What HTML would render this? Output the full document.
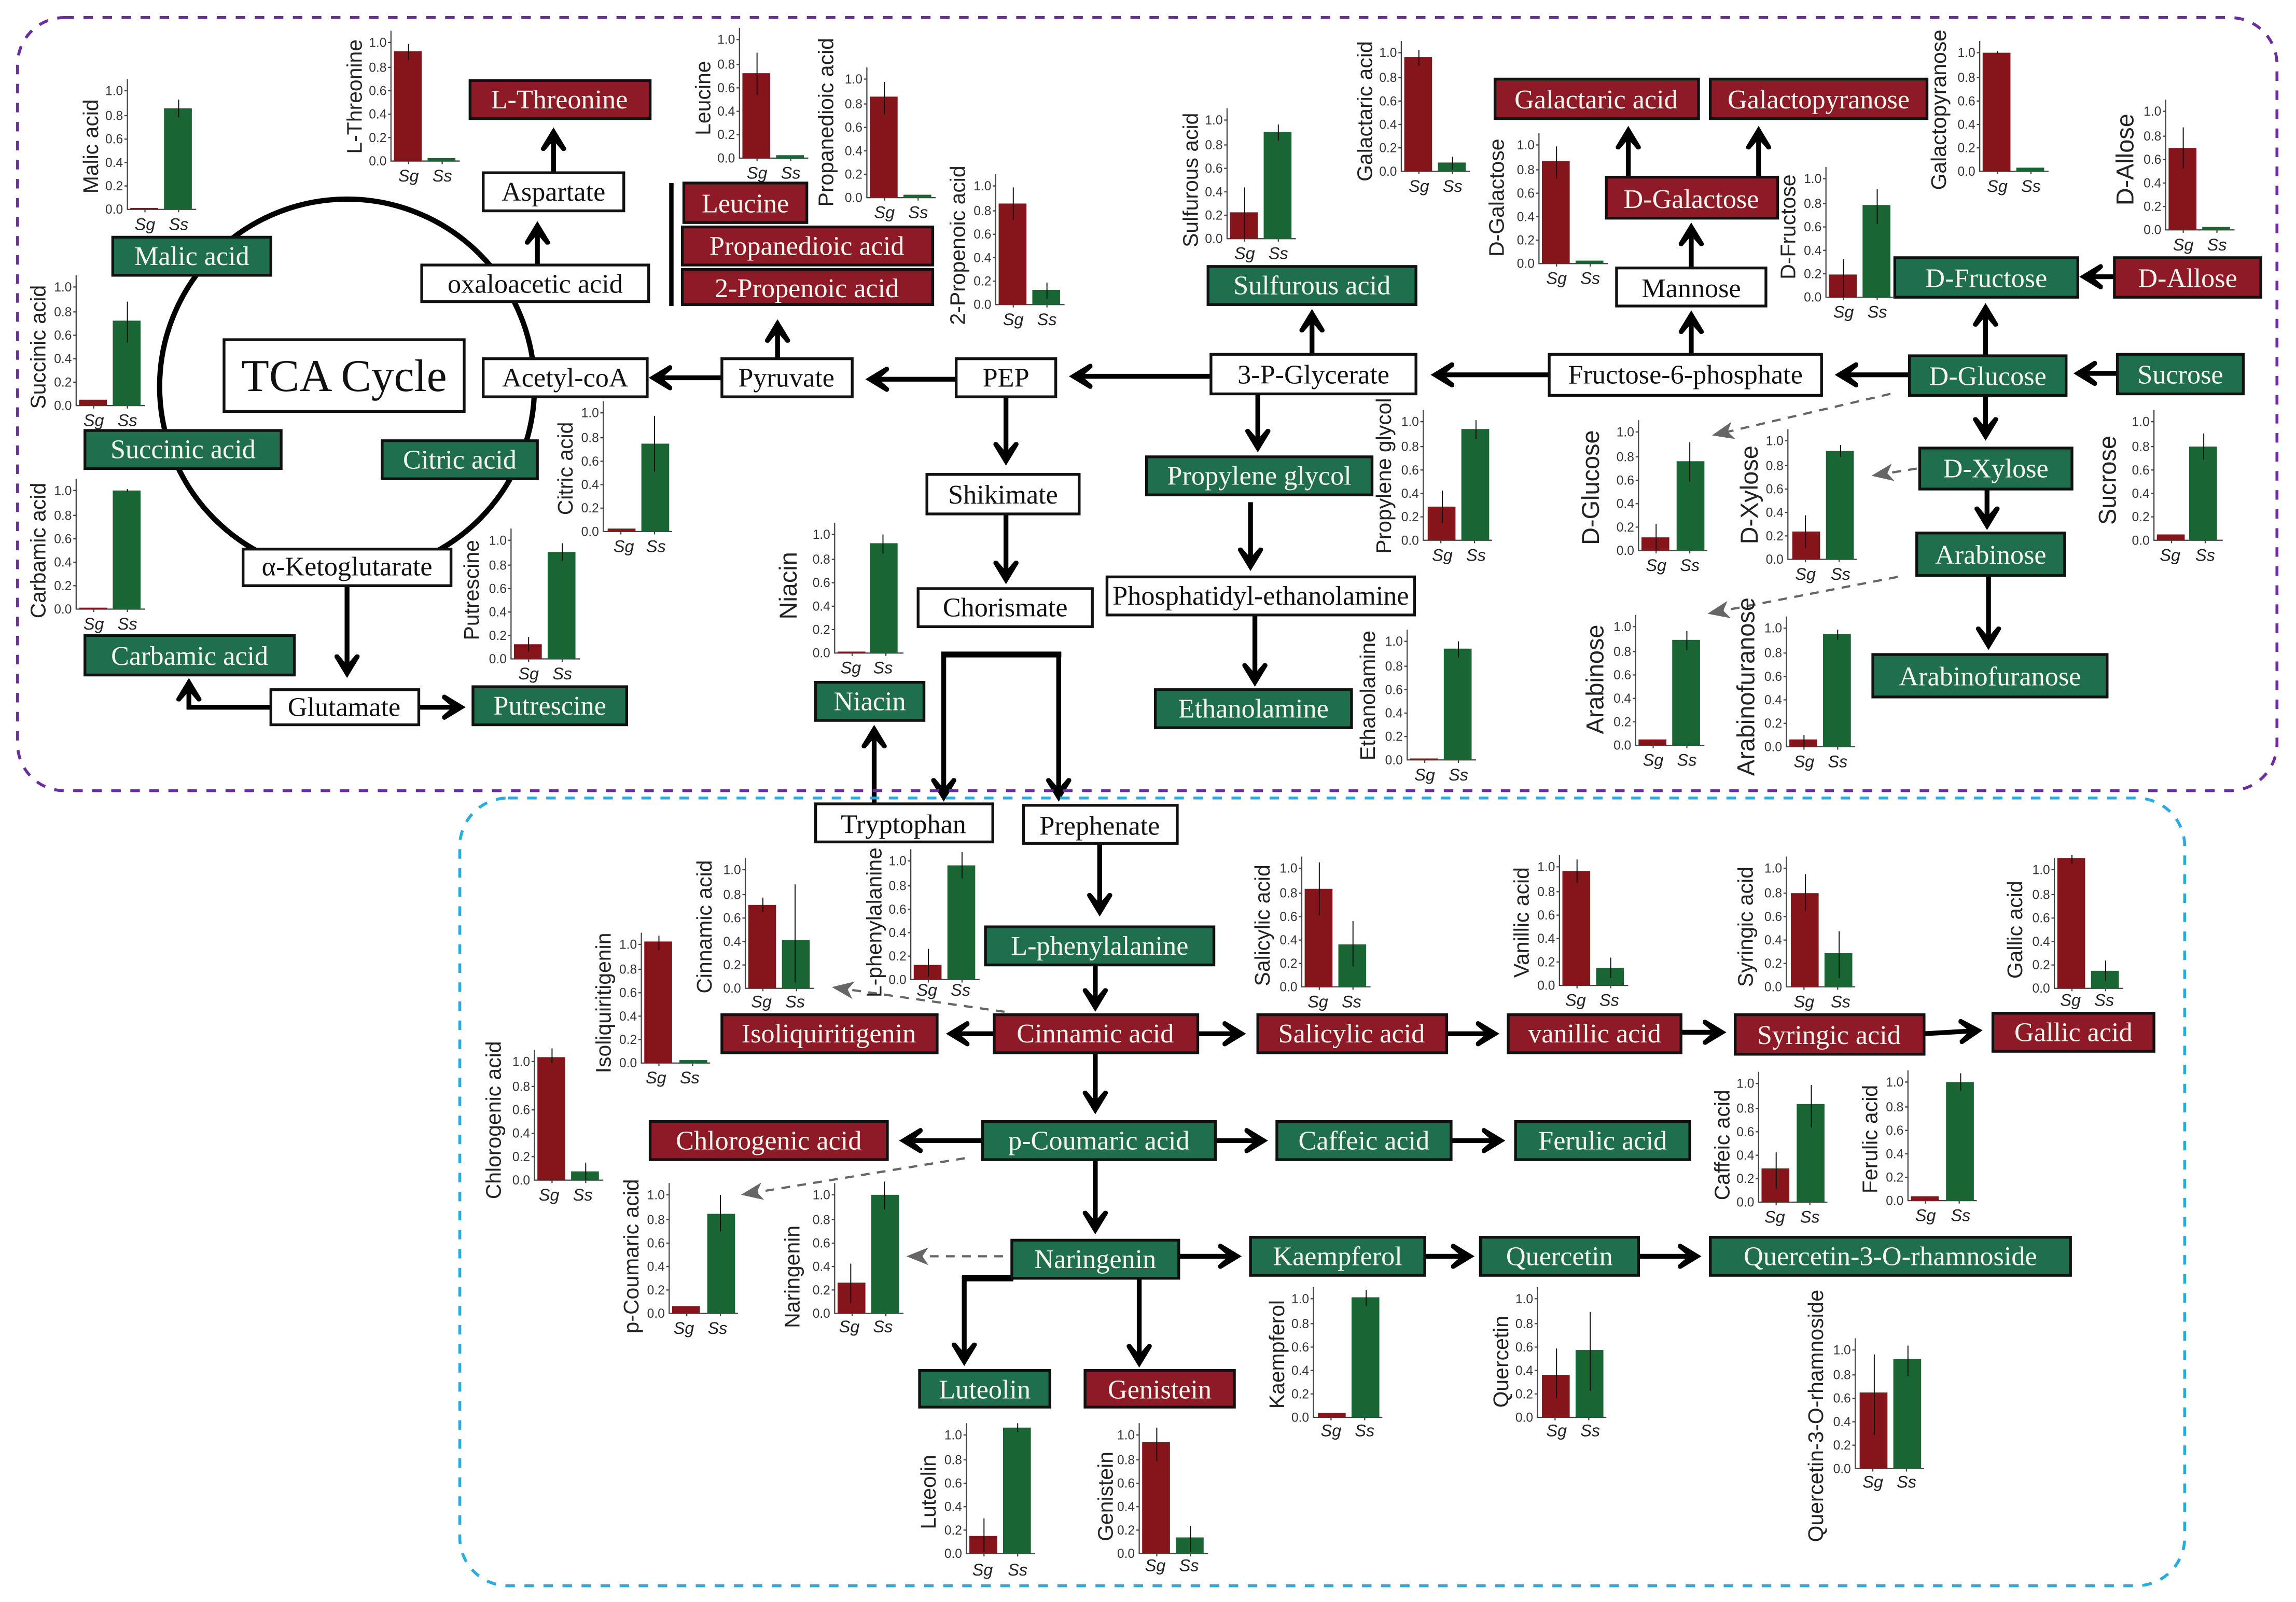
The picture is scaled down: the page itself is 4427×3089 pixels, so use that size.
<!DOCTYPE html>
<html><head><meta charset="utf-8"><title>Metabolic pathway diagram</title>
<style>
html,body{margin:0;padding:0;background:#fff}
svg{display:block}
.b rect{stroke:#111;stroke-width:1.9}
.w rect{fill:#fff}.w text{fill:#111}
.R rect{fill:#8f1a27}.G rect{fill:#1f6f4e}
.R text,.G text{fill:#f5f5ee}
.b text{font:18.5px "Liberation Serif",serif;text-anchor:middle}
.A path{fill:none;stroke:#000;stroke-width:3.3;marker-end:url(#h)}
.D path{fill:none;stroke:#666;stroke-width:1.5;stroke-dasharray:6 5;marker-end:url(#d)}
.a{fill:none;stroke:#444;stroke-width:.8}
.e{fill:none;stroke:#111;stroke-width:.7}
.r{fill:#85151a}.g{fill:#1a6534}
.t text{font:8.7px "Liberation Sans",sans-serif;fill:#333;text-anchor:end;transform:translateX(-3px)}
.s{font:italic 11.5px "Liberation Sans",sans-serif;fill:#222;text-anchor:middle}
.l{font:14.5px "Liberation Sans",sans-serif;fill:#222;text-anchor:middle}
.m{font-size:16.6px}
</style></head><body>
<svg xmlns="http://www.w3.org/2000/svg" width="4427" height="3089" viewBox="0 0 1568 1094.1">
<defs>
<marker id="h" markerUnits="userSpaceOnUse" markerWidth="24" markerHeight="24" viewBox="-18 -12 24 24" refX="-6" refY="0" orient="auto"><path d="M0 0L-14-8.500Q-16.500-9-16-6L-9 0L-16 6Q-16.500 9-14 8.500Z" fill="#000"/></marker>
<marker id="d" markerUnits="userSpaceOnUse" markerWidth="24" markerHeight="24" viewBox="-18 -12 24 24" refX="-6" refY="0" orient="auto"><path d="M0 0L-15-6-11 0-15 6Z" fill="#666"/></marker>
</defs>
<rect width="1568" height="1094.1" fill="#fff"/>
<circle cx="237" cy="264" r="128" fill="none" stroke="#000" stroke-width="3.6"/>
<rect x="457" y="125" width="3" height="84" fill="#000"/>

<g class="A">
<path d="M378 118V93"/><path d="M367 181V157"/><path d="M531 245V224"/><path d="M493 258H449"/><path d="M653 259H597"/><path d="M827 257H736"/><path d="M1058 256H983"/><path d="M1304 256H1259"/><path d="M1446 255H1422"/><path d="M1444 189H1426"/><path d="M1356 243V213"/><path d="M1356 270V295"/><path d="M1357 334V356"/><path d="M1358 393V438"/><path d="M1155 242V218"/><path d="M1155 183V158"/><path d="M1112 121V92"/><path d="M1201 121V92"/><path d="M896 242V217"/><path d="M859 269V303"/><path d="M854 343V384"/><path d="M857 420V463"/><path d="M687 271V312"/><path d="M687 351V393"/>
<path d="M644.500 447V541.500"/><path d="M723 447V541.500"/>
<path d="M597 549V501"/><path d="M751 576V620"/><path d="M748 659V685"/><path d="M679 706H652"/><path d="M818 706H845"/><path d="M988 706H1018"/><path d="M1148 705H1173"/><path d="M1314 706L1348 704"/><path d="M748 719V755"/><path d="M671 779H620"/><path d="M830 779H860"/><path d="M991 779H1022"/><path d="M748 792V837"/><path d="M805 858H842"/><path d="M973 858H1001"/><path d="M1119 858H1156"/>
<path d="M691 873H658.500V927"/><path d="M778 873V928"/>
<path d="M286 483H312"/><path d="M185 483H129V469"/><path d="M237 400V457"/>
</g>
<rect x="642.800" y="445" width="82" height="4" fill="#000"/>
<rect x="657" y="870.600" width="35" height="4.500" fill="#000"/>
<g class="D">
<path d="M1291 269L1175 296"/><path d="M1309 320L1284 324"/><path d="M1296 394L1172 418"/><path d="M686 691L574 675"/><path d="M659 791L512 815"/><path d="M685 858H625"/>
</g>
<rect x="12" y="12" width="1543" height="528" rx="32" fill="none" stroke="#6a2c9f" stroke-width="2" stroke-dasharray="6.5 6.5"/>
<rect x="314" y="545" width="1178" height="538" rx="33" fill="none" stroke="#29abe2" stroke-width="2" stroke-dasharray="6.5 6.5"/>

<g class="b w">
<rect x="330" y="118" width="96" height="26"/><text x="378" y="137">Aspartate</text>
<rect x="288" y="181" width="155" height="25"/><text x="365.500" y="200">oxaloacetic acid</text>
<rect x="153" y="232" width="164" height="49"/><text x="235" y="267" style="font-size:31px">TCA Cycle</text>
<rect x="330" y="245" width="112" height="26"/><text x="386" y="264">Acetyl-coA</text>
<rect x="166" y="375" width="142" height="25"/><text x="237" y="393">α-Ketoglutarate</text>
<rect x="185" y="471" width="101" height="24"/><text x="235" y="489">Glutamate</text>
<rect x="493" y="245" width="89" height="26"/><text x="537" y="264">Pyruvate</text>
<rect x="653" y="245" width="68" height="26"/><text x="687" y="264">PEP</text>
<rect x="827" y="242" width="140" height="27"/><text x="897" y="262">3-P-Glycerate</text>
<rect x="1058" y="242" width="186" height="28"/><text x="1151" y="262">Fructose-6-phosphate</text>
<rect x="1104" y="183" width="102" height="26"/><text x="1155" y="203">Mannose</text>
<rect x="756" y="394" width="210" height="26"/><text x="861" y="413">Phosphatidyl-ethanolamine</text>
<rect x="633" y="324" width="104" height="27"/><text x="685" y="344">Shikimate</text>
<rect x="627" y="402" width="119" height="26"/><text x="686.500" y="421">Chorismate</text>
<rect x="557" y="549" width="121" height="26"/><text x="617" y="569">Tryptophan</text>
<rect x="699" y="550" width="105" height="26"/><text x="751" y="570">Prephenate</text>
</g>
<g class="b R">
<rect x="321" y="55" width="123" height="26"/><text x="382" y="74">L-Threonine</text>
<rect x="467" y="125" width="84" height="27"/><text x="509" y="145">Leucine</text>
<rect x="466" y="155" width="171" height="26"/><text x="551" y="174">Propanedioic acid</text>
<rect x="466" y="184" width="171" height="24"/><text x="551" y="203">2-Propenoic acid</text>
<rect x="1021" y="54" width="139" height="27"/><text x="1090" y="74">Galactaric acid</text>
<rect x="1168" y="54" width="148" height="27"/><text x="1242" y="74">Galactopyranose</text>
<rect x="1097" y="121" width="117" height="28"/><text x="1155" y="142">D-Galactose</text>
<rect x="1444" y="176" width="100" height="27"/><text x="1494" y="196">D-Allose</text>
<rect x="493" y="693" width="147" height="26"/><text x="566" y="712">Isoliquiritigenin</text>
<rect x="679" y="693" width="139" height="26"/><text x="748" y="712">Cinnamic acid</text>
<rect x="859" y="693" width="129" height="26"/><text x="923" y="712">Salicylic acid</text>
<rect x="1030" y="693" width="118" height="26"/><text x="1089" y="712">vanillic acid</text>
<rect x="1185" y="693" width="129" height="27"/><text x="1249" y="713">Syringic acid</text>
<rect x="1361" y="692" width="110" height="26"/><text x="1416" y="711">Gallic acid</text>
<rect x="444" y="766" width="162" height="26"/><text x="525" y="785">Chlorogenic acid</text>
<rect x="741" y="936" width="102" height="25"/><text x="792" y="955">Genistein</text>
</g>
<g class="b G">
<rect x="77" y="162" width="108" height="26"/><text x="131" y="181">Malic acid</text>
<rect x="58" y="294" width="134" height="26"/><text x="125" y="313">Succinic acid</text>
<rect x="261" y="301" width="106" height="26"/><text x="314" y="320">Citric acid</text>
<rect x="58" y="434" width="143" height="27"/><text x="129.500" y="454">Carbamic acid</text>
<rect x="323" y="469" width="105" height="26"/><text x="375.500" y="488">Putrescine</text>
<rect x="825" y="182" width="142" height="26"/><text x="896" y="201">Sulfurous acid</text>
<rect x="783" y="312" width="154" height="26"/><text x="860" y="331">Propylene glycol</text>
<rect x="789" y="471" width="134" height="26"/><text x="856" y="490">Ethanolamine</text>
<rect x="557" y="466" width="74" height="26"/><text x="594" y="485">Niacin</text>
<rect x="1294" y="176" width="125" height="27"/><text x="1356.500" y="196">D-Fructose</text>
<rect x="1304" y="243" width="107" height="27"/><text x="1357.500" y="263">D-Glucose</text>
<rect x="1446" y="242" width="86" height="27"/><text x="1489" y="262">Sucrose</text>
<rect x="1311" y="306" width="104" height="28"/><text x="1363" y="326">D-Xylose</text>
<rect x="1309" y="364" width="101" height="29"/><text x="1359.500" y="385">Arabinose</text>
<rect x="1279" y="447" width="160" height="29"/><text x="1359" y="468">Arabinofuranose</text>
<rect x="673" y="633" width="156" height="26"/><text x="751" y="652">L-phenylalanine</text>
<rect x="671" y="766" width="159" height="26"/><text x="750.500" y="785">p-Coumaric acid</text>
<rect x="872" y="766" width="119" height="26"/><text x="931.500" y="785">Caffeic acid</text>
<rect x="1035" y="766" width="119" height="26"/><text x="1094.500" y="785">Ferulic acid</text>
<rect x="691" y="847" width="114" height="26"/><text x="748" y="866">Naringenin</text>
<rect x="854" y="845" width="119" height="26"/><text x="913.500" y="864">Kaempferol</text>
<rect x="1011" y="845" width="108" height="26"/><text x="1065" y="864">Quercetin</text>
<rect x="1168" y="845" width="246" height="26"/><text x="1291" y="864">Quercetin-3-O-rhamnoside</text>
<rect x="628" y="936" width="89" height="25"/><text x="672.500" y="955">Luteolin</text>
</g>

<g transform="translate(87,143)"><path class="a" d="M0-89V0H47M-2-16H0M-2-32H0M-2-48H0M-2-64H0M-2-81H0M12 0v2M35 0v2"/><g class="t"><text y="3">0.0</text><text y="-13">0.2</text><text y="-29">0.4</text><text y="-45">0.6</text><text y="-61">0.8</text><text y="-78">1.0</text></g><rect class="r" x="2" y="-1" width="19" height="1"/><rect class="g" x="25" y="-69" width="19" height="69"/><path class="e" d="M35-75V-63"/><text class="s" x="12" y="14">Sg</text><text class="s" x="35" y="14">Ss</text><text class="l" transform="translate(-20,-43) rotate(-90)">Malic acid</text></g>
<g transform="translate(52,277)"><path class="a" d="M0-89V0H47M-2-16H0M-2-32H0M-2-48H0M-2-64H0M-2-81H0M12 0v2M35 0v2"/><g class="t"><text y="3">0.0</text><text y="-13">0.2</text><text y="-29">0.4</text><text y="-45">0.6</text><text y="-61">0.8</text><text y="-78">1.0</text></g><rect class="r" x="2" y="-4" width="19" height="4"/><rect class="g" x="25" y="-58" width="19" height="58"/><path class="e" d="M35-71V-43"/><text class="s" x="12" y="14">Sg</text><text class="s" x="35" y="14">Ss</text><text class="l" transform="translate(-21,-40) rotate(-90)">Succinic acid</text></g>
<g transform="translate(52,416)"><path class="a" d="M0-89V0H47M-2-16H0M-2-32H0M-2-48H0M-2-64H0M-2-81H0M12 0v2M35 0v2"/><g class="t"><text y="3">0.0</text><text y="-13">0.2</text><text y="-29">0.4</text><text y="-45">0.6</text><text y="-61">0.8</text><text y="-78">1.0</text></g><rect class="r" x="2" y="-1" width="19" height="1"/><rect class="g" x="25" y="-81" width="19" height="81"/><path class="e" d="M35-82V-80"/><text class="s" x="12" y="14">Sg</text><text class="s" x="35" y="14">Ss</text><text class="l" transform="translate(-21,-40) rotate(-90)">Carbamic acid</text></g>
<g transform="translate(267,110)"><path class="a" d="M0-89V0H47M-2-16H0M-2-32H0M-2-48H0M-2-64H0M-2-81H0M12 0v2M35 0v2"/><g class="t"><text y="3">0.0</text><text y="-13">0.2</text><text y="-29">0.4</text><text y="-45">0.6</text><text y="-61">0.8</text><text y="-78">1.0</text></g><rect class="r" x="2" y="-75" width="19" height="75"/><rect class="g" x="25" y="-2" width="19" height="2"/><path class="e" d="M12-80V-69"/><text class="s" x="12" y="14">Sg</text><text class="s" x="35" y="14">Ss</text><text class="l" transform="translate(-20,-44) rotate(-90)">L-Threonine</text></g>
<g transform="translate(505,108)"><path class="a" d="M0-89V0H47M-2-16H0M-2-32H0M-2-48H0M-2-64H0M-2-81H0M12 0v2M35 0v2"/><g class="t"><text y="3">0.0</text><text y="-13">0.2</text><text y="-29">0.4</text><text y="-45">0.6</text><text y="-61">0.8</text><text y="-78">1.0</text></g><rect class="r" x="2" y="-58" width="19" height="58"/><rect class="g" x="25" y="-2" width="19" height="2"/><path class="e" d="M12-72V-43"/><text class="s" x="12" y="14">Sg</text><text class="s" x="35" y="14">Ss</text><text class="l" transform="translate(-20,-41) rotate(-90)">Leucine</text></g>
<g transform="translate(592,135)"><path class="a" d="M0-89V0H47M-2-16H0M-2-32H0M-2-48H0M-2-64H0M-2-81H0M12 0v2M35 0v2"/><g class="t"><text y="3">0.0</text><text y="-13">0.2</text><text y="-29">0.4</text><text y="-45">0.6</text><text y="-61">0.8</text><text y="-78">1.0</text></g><rect class="r" x="2" y="-69" width="19" height="69"/><rect class="g" x="25" y="-2" width="19" height="2"/><path class="e" d="M12-79V-57"/><text class="s" x="12" y="14">Sg</text><text class="s" x="35" y="14">Ss</text><text class="l" transform="translate(-23,-51.500) rotate(-90)">Propanedioic acid</text></g>
<g transform="translate(680,208)"><path class="a" d="M0-89V0H47M-2-16H0M-2-32H0M-2-48H0M-2-64H0M-2-81H0M12 0v2M35 0v2"/><g class="t"><text y="3">0.0</text><text y="-13">0.2</text><text y="-29">0.4</text><text y="-45">0.6</text><text y="-61">0.8</text><text y="-78">1.0</text></g><rect class="r" x="2" y="-69" width="19" height="69"/><rect class="g" x="25" y="-10" width="19" height="10"/><path class="e" d="M12-80V-58M35-15V-4"/><text class="s" x="12" y="14">Sg</text><text class="s" x="35" y="14">Ss</text><text class="l" transform="translate(-21,-40.500) rotate(-90)">2-Propenoic acid</text></g>
<g transform="translate(412,363)"><path class="a" d="M0-89V0H47M-2-16H0M-2-32H0M-2-48H0M-2-64H0M-2-81H0M12 0v2M35 0v2"/><g class="t"><text y="3">0.0</text><text y="-13">0.2</text><text y="-29">0.4</text><text y="-45">0.6</text><text y="-61">0.8</text><text y="-78">1.0</text></g><rect class="r" x="3" y="-2" width="19" height="2"/><rect class="g" x="26" y="-60" width="19" height="60"/><path class="e" d="M35-79V-41"/><text class="s" x="14" y="14">Sg</text><text class="s" x="36" y="14">Ss</text><text class="l" transform="translate(-21,-43) rotate(-90)">Citric acid</text></g>
<g transform="translate(349,450)"><path class="a" d="M0-89V0H47M-2-16H0M-2-32H0M-2-48H0M-2-64H0M-2-81H0M12 0v2M35 0v2"/><g class="t"><text y="3">0.0</text><text y="-13">0.2</text><text y="-29">0.4</text><text y="-45">0.6</text><text y="-61">0.8</text><text y="-78">1.0</text></g><rect class="r" x="2" y="-10" width="19" height="10"/><rect class="g" x="25" y="-73" width="19" height="73"/><path class="e" d="M12-15V-5M35-79V-67"/><text class="s" x="12" y="14">Sg</text><text class="s" x="35" y="14">Ss</text><text class="l" transform="translate(-22,-47) rotate(-90)">Putrescine</text></g>
<g transform="translate(570,446)"><path class="a" d="M0-89V0H47M-2-16H0M-2-32H0M-2-48H0M-2-64H0M-2-81H0M12 0v2M35 0v2"/><g class="t"><text y="3">0.0</text><text y="-13">0.2</text><text y="-29">0.4</text><text y="-45">0.6</text><text y="-61">0.8</text><text y="-78">1.0</text></g><rect class="r" x="2" y="-1" width="19" height="1"/><rect class="g" x="24" y="-75" width="19" height="75"/><path class="e" d="M33-81V-68"/><text class="s" x="11" y="14">Sg</text><text class="s" x="33" y="14">Ss</text><text class="l m" transform="translate(-26,-46) rotate(-90)">Niacin</text></g>
<g transform="translate(838,163)"><path class="a" d="M0-89V0H47M-2-16H0M-2-32H0M-2-48H0M-2-64H0M-2-81H0M12 0v2M35 0v2"/><g class="t"><text y="3">0.0</text><text y="-13">0.2</text><text y="-29">0.4</text><text y="-45">0.6</text><text y="-61">0.8</text><text y="-78">1.0</text></g><rect class="r" x="2" y="-18" width="19" height="18"/><rect class="g" x="25" y="-73" width="19" height="73"/><path class="e" d="M12-35V0M35-78V-67"/><text class="s" x="12" y="14">Sg</text><text class="s" x="35" y="14">Ss</text><text class="l" transform="translate(-20,-40) rotate(-90)">Sulfurous acid</text></g>
<g transform="translate(972,369)"><path class="a" d="M0-89V0H47M-2-16H0M-2-32H0M-2-48H0M-2-64H0M-2-81H0M12 0v2M35 0v2"/><g class="t"><text y="3">0.0</text><text y="-13">0.2</text><text y="-29">0.4</text><text y="-45">0.6</text><text y="-61">0.8</text><text y="-78">1.0</text></g><rect class="r" x="3" y="-23" width="19" height="23"/><rect class="g" x="26" y="-76" width="19" height="76"/><path class="e" d="M13-34V-12M36-82V-69"/><text class="s" x="13" y="14">Sg</text><text class="s" x="36" y="14">Ss</text><text class="l" transform="translate(-22,-44) rotate(-90)">Propylene glycol</text></g>
<g transform="translate(961,519)"><path class="a" d="M0-89V0H47M-2-16H0M-2-32H0M-2-48H0M-2-64H0M-2-81H0M12 0v2M35 0v2"/><g class="t"><text y="3">0.0</text><text y="-13">0.2</text><text y="-29">0.4</text><text y="-45">0.6</text><text y="-61">0.8</text><text y="-78">1.0</text></g><rect class="r" x="2" y="-1" width="19" height="1"/><rect class="g" x="25" y="-76" width="19" height="76"/><path class="e" d="M35-81V-70"/><text class="s" x="12" y="14">Sg</text><text class="s" x="35" y="14">Ss</text><text class="l" transform="translate(-22,-44) rotate(-90)">Ethanolamine</text></g>
<g transform="translate(957,117)"><path class="a" d="M0-89V0H47M-2-16H0M-2-32H0M-2-48H0M-2-64H0M-2-81H0M12 0v2M35 0v2"/><g class="t"><text y="3">0.0</text><text y="-13">0.2</text><text y="-29">0.4</text><text y="-45">0.6</text><text y="-61">0.8</text><text y="-78">1.0</text></g><rect class="r" x="2" y="-78" width="19" height="78"/><rect class="g" x="25" y="-6" width="19" height="6"/><path class="e" d="M12-83V-72M35-10V-1"/><text class="s" x="12" y="14">Sg</text><text class="s" x="35" y="14">Ss</text><text class="l" transform="translate(-20,-41) rotate(-90)">Galactaric acid</text></g>
<g transform="translate(1051,180)"><path class="a" d="M0-89V0H47M-2-16H0M-2-32H0M-2-48H0M-2-64H0M-2-81H0M12 0v2M35 0v2"/><g class="t"><text y="3">0.0</text><text y="-13">0.2</text><text y="-29">0.4</text><text y="-45">0.6</text><text y="-61">0.8</text><text y="-78">1.0</text></g><rect class="r" x="2" y="-70" width="19" height="70"/><rect class="g" x="25" y="-2" width="19" height="2"/><path class="e" d="M12-80V-58"/><text class="s" x="12" y="14">Sg</text><text class="s" x="35" y="14">Ss</text><text class="l" transform="translate(-24,-45) rotate(-90)">D-Galactose</text></g>
<g transform="translate(1352,117)"><path class="a" d="M0-89V0H47M-2-16H0M-2-32H0M-2-48H0M-2-64H0M-2-81H0M12 0v2M35 0v2"/><g class="t"><text y="3">0.0</text><text y="-13">0.2</text><text y="-29">0.4</text><text y="-45">0.6</text><text y="-61">0.8</text><text y="-78">1.0</text></g><rect class="r" x="2" y="-81" width="19" height="81"/><rect class="g" x="25" y="-2.500" width="19" height="2.500"/><path class="e" d="M12-82V-80"/><text class="s" x="12" y="14">Sg</text><text class="s" x="35" y="14">Ss</text><text class="l" transform="translate(-23,-42) rotate(-90)">Galactopyranose</text></g>
<g transform="translate(1247,203)"><path class="a" d="M0-89V0H47M-2-16H0M-2-32H0M-2-48H0M-2-64H0M-2-81H0M12 0v2M35 0v2"/><g class="t"><text y="3">0.0</text><text y="-13">0.2</text><text y="-29">0.4</text><text y="-45">0.6</text><text y="-61">0.8</text><text y="-78">1.0</text></g><rect class="r" x="2" y="-15.500" width="19" height="15.500"/><rect class="g" x="25" y="-63" width="19" height="63"/><path class="e" d="M12-26V0M35-74V-50"/><text class="s" x="12" y="14">Sg</text><text class="s" x="35" y="14">Ss</text><text class="l" transform="translate(-21,-48) rotate(-90)">D-Fructose</text></g>
<g transform="translate(1479,157)"><path class="a" d="M0-89V0H47M-2-16H0M-2-32H0M-2-48H0M-2-64H0M-2-81H0M12 0v2M35 0v2"/><g class="t"><text y="3">0.0</text><text y="-13">0.2</text><text y="-29">0.4</text><text y="-45">0.6</text><text y="-61">0.8</text><text y="-78">1.0</text></g><rect class="r" x="2" y="-56" width="19" height="56"/><rect class="g" x="25" y="-2" width="19" height="2"/><path class="e" d="M12-70V-42"/><text class="s" x="12" y="14">Sg</text><text class="s" x="35" y="14">Ss</text><text class="l m" transform="translate(-22,-48) rotate(-90)">D-Allose</text></g>
<g transform="translate(1119,376)"><path class="a" d="M0-89V0H47M-2-16H0M-2-32H0M-2-48H0M-2-64H0M-2-81H0M12 0v2M35 0v2"/><g class="t"><text y="3">0.0</text><text y="-13">0.2</text><text y="-29">0.4</text><text y="-45">0.6</text><text y="-61">0.8</text><text y="-78">1.0</text></g><rect class="r" x="2" y="-9" width="19" height="9"/><rect class="g" x="26" y="-61" width="19" height="61"/><path class="e" d="M12-18V0M35-74V-47"/><text class="s" x="12" y="14">Sg</text><text class="s" x="35" y="14">Ss</text><text class="l m" transform="translate(-27,-43) rotate(-90)">D-Glucose</text></g>
<g transform="translate(1221,382)"><path class="a" d="M0-89V0H47M-2-16H0M-2-32H0M-2-48H0M-2-64H0M-2-81H0M12 0v2M35 0v2"/><g class="t"><text y="3">0.0</text><text y="-13">0.2</text><text y="-29">0.4</text><text y="-45">0.6</text><text y="-61">0.8</text><text y="-78">1.0</text></g><rect class="r" x="3" y="-19" width="19" height="19"/><rect class="g" x="26" y="-74" width="19" height="74"/><path class="e" d="M12-30V-8M36-78V-70"/><text class="s" x="12" y="14">Sg</text><text class="s" x="36" y="14">Ss</text><text class="l m" transform="translate(-20.600,-44) rotate(-90)">D-Xylose</text></g>
<g transform="translate(1471,369)"><path class="a" d="M0-89V0H47M-2-16H0M-2-32H0M-2-48H0M-2-64H0M-2-81H0M12 0v2M35 0v2"/><g class="t"><text y="3">0.0</text><text y="-13">0.2</text><text y="-29">0.4</text><text y="-45">0.6</text><text y="-61">0.8</text><text y="-78">1.0</text></g><rect class="r" x="2" y="-4" width="19" height="4"/><rect class="g" x="24" y="-64" width="19" height="64"/><path class="e" d="M34-73V-55"/><text class="s" x="11" y="14">Sg</text><text class="s" x="35" y="14">Ss</text><text class="l m" transform="translate(-26,-41) rotate(-90)">Sucrose</text></g>
<g transform="translate(1117,509)"><path class="a" d="M0-89V0H47M-2-16H0M-2-32H0M-2-48H0M-2-64H0M-2-81H0M12 0v2M35 0v2"/><g class="t"><text y="3">0.0</text><text y="-13">0.2</text><text y="-29">0.4</text><text y="-45">0.6</text><text y="-61">0.8</text><text y="-78">1.0</text></g><rect class="r" x="2" y="-4" width="19" height="4"/><rect class="g" x="25" y="-72" width="19" height="72"/><path class="e" d="M35-78V-65"/><text class="s" x="12" y="14">Sg</text><text class="s" x="35" y="14">Ss</text><text class="l m" transform="translate(-22,-45) rotate(-90)">Arabinose</text></g>
<g transform="translate(1220,510)"><path class="a" d="M0-89V0H47M-2-16H0M-2-32H0M-2-48H0M-2-64H0M-2-81H0M12 0v2M35 0v2"/><g class="t"><text y="3">0.0</text><text y="-13">0.2</text><text y="-29">0.4</text><text y="-45">0.6</text><text y="-61">0.8</text><text y="-78">1.0</text></g><rect class="r" x="2" y="-5" width="19" height="5"/><rect class="g" x="25" y="-77" width="19" height="77"/><path class="e" d="M35-80V-73M12-8V0"/><text class="s" x="12" y="14">Sg</text><text class="s" x="35" y="14">Ss</text><text class="l m" transform="translate(-22,-41) rotate(-90)">Arabinofuranose</text></g>

<g transform="translate(509,675)"><path class="a" d="M0-89V0H47M-2-16H0M-2-32H0M-2-48H0M-2-64H0M-2-81H0M12 0v2M35 0v2"/><g class="t"><text y="3">0.0</text><text y="-13">0.2</text><text y="-29">0.4</text><text y="-45">0.6</text><text y="-61">0.8</text><text y="-78">1.0</text></g><rect class="r" x="2" y="-57" width="19" height="57"/><rect class="g" x="25" y="-33" width="19" height="33"/><path class="e" d="M12-62V-52M34-71V-4"/><text class="s" x="11" y="13">Sg</text><text class="s" x="34" y="13">Ss</text><text class="l" transform="translate(-23,-42) rotate(-90)">Cinnamic acid</text></g>
<g transform="translate(622,669)"><path class="a" d="M0-89V0H47M-2-16H0M-2-32H0M-2-48H0M-2-64H0M-2-81H0M12 0v2M35 0v2"/><g class="t"><text y="3">0.0</text><text y="-13">0.2</text><text y="-29">0.4</text><text y="-45">0.6</text><text y="-61">0.8</text><text y="-78">1.0</text></g><rect class="r" x="2" y="-10" width="19" height="10"/><rect class="g" x="25" y="-78" width="19" height="78"/><path class="e" d="M12-21V-2M35-87V-69"/><text class="s" x="11" y="11">Sg</text><text class="s" x="34" y="11">Ss</text><text class="l" transform="translate(-20,-39) rotate(-90)">L-phenylalanine</text></g>
<g transform="translate(438,726)"><path class="a" d="M0-89V0H47M-2-16H0M-2-32H0M-2-48H0M-2-64H0M-2-81H0M12 0v2M35 0v2"/><g class="t"><text y="3">0.0</text><text y="-13">0.2</text><text y="-29">0.4</text><text y="-45">0.6</text><text y="-61">0.8</text><text y="-78">1.0</text></g><rect class="r" x="2" y="-83" width="19" height="83"/><rect class="g" x="26" y="-2" width="19" height="2"/><path class="e" d="M12-87V-77"/><text class="s" x="10" y="14">Sg</text><text class="s" x="33" y="14">Ss</text><text class="l" transform="translate(-21,-41) rotate(-90)">Isoliquiritigenin</text></g>
<g transform="translate(365,806)"><path class="a" d="M0-89V0H47M-2-16H0M-2-32H0M-2-48H0M-2-64H0M-2-81H0M12 0v2M35 0v2"/><g class="t"><text y="3">0.0</text><text y="-13">0.2</text><text y="-29">0.4</text><text y="-45">0.6</text><text y="-61">0.8</text><text y="-78">1.0</text></g><rect class="r" x="2" y="-84" width="19" height="84"/><rect class="g" x="25" y="-6" width="19" height="6"/><path class="e" d="M12-90V-80M35-12V0"/><text class="s" x="10" y="14">Sg</text><text class="s" x="33" y="14">Ss</text><text class="l" transform="translate(-23,-41) rotate(-90)">Chlorogenic acid</text></g>
<g transform="translate(457,897)"><path class="a" d="M0-89V0H47M-2-16H0M-2-32H0M-2-48H0M-2-64H0M-2-81H0M12 0v2M35 0v2"/><g class="t"><text y="3">0.0</text><text y="-13">0.2</text><text y="-29">0.4</text><text y="-45">0.6</text><text y="-61">0.8</text><text y="-78">1.0</text></g><rect class="r" x="2" y="-5" width="19" height="5"/><rect class="g" x="26" y="-68" width="19" height="68"/><path class="e" d="M35-81V-56"/><text class="s" x="10" y="14">Sg</text><text class="s" x="33" y="14">Ss</text><text class="l" transform="translate(-21,-39) rotate(-90)">p-Coumaric acid</text></g>
<g transform="translate(570,897)"><path class="a" d="M0-89V0H47M-2-16H0M-2-32H0M-2-48H0M-2-64H0M-2-81H0M12 0v2M35 0v2"/><g class="t"><text y="3">0.0</text><text y="-13">0.2</text><text y="-29">0.4</text><text y="-45">0.6</text><text y="-61">0.8</text><text y="-78">1.0</text></g><rect class="r" x="2" y="-21" width="19" height="21"/><rect class="g" x="25" y="-81" width="19" height="81"/><path class="e" d="M11-34V-7M34-90V-71"/><text class="s" x="10" y="13">Sg</text><text class="s" x="33" y="13">Ss</text><text class="l" transform="translate(-24,-25) rotate(-90)">Naringenin</text></g>
<g transform="translate(889,674)"><path class="a" d="M0-89V0H47M-2-16H0M-2-32H0M-2-48H0M-2-64H0M-2-81H0M12 0v2M35 0v2"/><g class="t"><text y="3">0.0</text><text y="-13">0.2</text><text y="-29">0.4</text><text y="-45">0.6</text><text y="-61">0.8</text><text y="-78">1.0</text></g><rect class="r" x="2" y="-67" width="19" height="67"/><rect class="g" x="25" y="-29" width="19" height="29"/><path class="e" d="M12-85V-49M35-45V-14"/><text class="s" x="11" y="14">Sg</text><text class="s" x="34" y="14">Ss</text><text class="l" transform="translate(-22,-42) rotate(-90)">Salicylic acid</text></g>
<g transform="translate(1065,673)"><path class="a" d="M0-89V0H47M-2-16H0M-2-32H0M-2-48H0M-2-64H0M-2-81H0M12 0v2M35 0v2"/><g class="t"><text y="3">0.0</text><text y="-13">0.2</text><text y="-29">0.4</text><text y="-45">0.6</text><text y="-61">0.8</text><text y="-78">1.0</text></g><rect class="r" x="2" y="-78" width="19" height="78"/><rect class="g" x="25" y="-12" width="19" height="12"/><path class="e" d="M12-86V-70M35-19V-5"/><text class="s" x="11" y="14">Sg</text><text class="s" x="34" y="14">Ss</text><text class="l" transform="translate(-21,-43) rotate(-90)">Vanillic acid</text></g>
<g transform="translate(1220,674)"><path class="a" d="M0-89V0H47M-2-16H0M-2-32H0M-2-48H0M-2-64H0M-2-81H0M12 0v2M35 0v2"/><g class="t"><text y="3">0.0</text><text y="-13">0.2</text><text y="-29">0.4</text><text y="-45">0.6</text><text y="-61">0.8</text><text y="-78">1.0</text></g><rect class="r" x="3" y="-64" width="19" height="64"/><rect class="g" x="26" y="-23" width="19" height="23"/><path class="e" d="M13-77V-52M36-38V-6"/><text class="s" x="12" y="14">Sg</text><text class="s" x="37" y="14">Ss</text><text class="l" transform="translate(-23,-41) rotate(-90)">Syringic acid</text></g>
<g transform="translate(1403,675)"><path class="a" d="M0-89V0H47M-2-16H0M-2-32H0M-2-48H0M-2-64H0M-2-81H0M12 0v2M35 0v2"/><g class="t"><text y="3">0.0</text><text y="-13">0.2</text><text y="-29">0.4</text><text y="-45">0.6</text><text y="-61">0.8</text><text y="-78">1.0</text></g><rect class="r" x="2" y="-89" width="19" height="89"/><rect class="g" x="25" y="-12" width="19" height="12"/><path class="e" d="M12-91V-85M35-19V-5"/><text class="s" x="11" y="12">Sg</text><text class="s" x="34" y="12">Ss</text><text class="l" transform="translate(-22,-40) rotate(-90)">Gallic acid</text></g>
<g transform="translate(1201,821)"><path class="a" d="M0-89V0H47M-2-16H0M-2-32H0M-2-48H0M-2-64H0M-2-81H0M12 0v2M35 0v2"/><g class="t"><text y="3">0.0</text><text y="-13">0.2</text><text y="-29">0.4</text><text y="-45">0.6</text><text y="-61">0.8</text><text y="-78">1.0</text></g><rect class="r" x="2" y="-23" width="19" height="23"/><rect class="g" x="26" y="-67" width="19" height="67"/><path class="e" d="M12-34V-9M36-80V-51"/><text class="s" x="11" y="14">Sg</text><text class="s" x="35" y="14">Ss</text><text class="l" transform="translate(-20,-39) rotate(-90)">Caffeic acid</text></g>
<g transform="translate(1303,820)"><path class="a" d="M0-89V0H47M-2-16H0M-2-32H0M-2-48H0M-2-64H0M-2-81H0M12 0v2M35 0v2"/><g class="t"><text y="3">0.0</text><text y="-13">0.2</text><text y="-29">0.4</text><text y="-45">0.6</text><text y="-61">0.8</text><text y="-78">1.0</text></g><rect class="r" x="2" y="-3" width="19" height="3"/><rect class="g" x="26" y="-81" width="19" height="81"/><path class="e" d="M36-87V-75"/><text class="s" x="12" y="14">Sg</text><text class="s" x="36" y="14">Ss</text><text class="l" transform="translate(-21,-42) rotate(-90)">Ferulic acid</text></g>
<g transform="translate(897,968)"><path class="a" d="M0-89V0H47M-2-16H0M-2-32H0M-2-48H0M-2-64H0M-2-81H0M12 0v2M35 0v2"/><g class="t"><text y="3">0.0</text><text y="-13">0.2</text><text y="-29">0.4</text><text y="-45">0.6</text><text y="-61">0.8</text><text y="-78">1.0</text></g><rect class="r" x="3" y="-3" width="19" height="3"/><rect class="g" x="26" y="-82" width="19" height="82"/><path class="e" d="M36-87V-76"/><text class="s" x="12" y="13">Sg</text><text class="s" x="35" y="13">Ss</text><text class="l" transform="translate(-20,-43) rotate(-90)">Kaempferol</text></g>
<g transform="translate(1050,968)"><path class="a" d="M0-89V0H47M-2-16H0M-2-32H0M-2-48H0M-2-64H0M-2-81H0M12 0v2M35 0v2"/><g class="t"><text y="3">0.0</text><text y="-13">0.2</text><text y="-29">0.4</text><text y="-45">0.6</text><text y="-61">0.8</text><text y="-78">1.0</text></g><rect class="r" x="3" y="-29" width="19" height="29"/><rect class="g" x="26" y="-46" width="19" height="46"/><path class="e" d="M13-47V-13M36-72V-18"/><text class="s" x="13" y="13">Sg</text><text class="s" x="36" y="13">Ss</text><text class="l" transform="translate(-20,-38) rotate(-90)">Quercetin</text></g>
<g transform="translate(1267,1003)"><path class="a" d="M0-89V0H47M-2-16H0M-2-32H0M-2-48H0M-2-64H0M-2-81H0M12 0v2M35 0v2"/><g class="t"><text y="3">0.0</text><text y="-13">0.2</text><text y="-29">0.4</text><text y="-45">0.6</text><text y="-61">0.8</text><text y="-78">1.0</text></g><rect class="r" x="3" y="-52" width="19" height="52"/><rect class="g" x="26" y="-75" width="19" height="75"/><path class="e" d="M13-78V-23M36-84V-63"/><text class="s" x="12" y="13">Sg</text><text class="s" x="35" y="13">Ss</text><text class="l" transform="translate(-22,-36) rotate(-90)">Quercetin-3-O-rhamnoside</text></g>
<g transform="translate(660,1061)"><path class="a" d="M0-89V0H47M-2-16H0M-2-32H0M-2-48H0M-2-64H0M-2-81H0M12 0v2M35 0v2"/><g class="t"><text y="3">0.0</text><text y="-13">0.2</text><text y="-29">0.4</text><text y="-45">0.6</text><text y="-61">0.8</text><text y="-78">1.0</text></g><rect class="r" x="2" y="-12" width="19" height="12"/><rect class="g" x="25" y="-86" width="19" height="86"/><path class="e" d="M12-24V-1M35-89V-83"/><text class="s" x="11" y="15">Sg</text><text class="s" x="35" y="15">Ss</text><text class="l" transform="translate(-21,-42) rotate(-90)">Luteolin</text></g>
<g transform="translate(778,1061)"><path class="a" d="M0-89V0H47M-2-16H0M-2-32H0M-2-48H0M-2-64H0M-2-81H0M12 0v2M35 0v2"/><g class="t"><text y="3">0.0</text><text y="-13">0.2</text><text y="-29">0.4</text><text y="-45">0.6</text><text y="-61">0.8</text><text y="-78">1.0</text></g><rect class="r" x="2" y="-76" width="19" height="76"/><rect class="g" x="25" y="-11" width="19" height="11"/><path class="e" d="M12-86V-63M35-19V-1"/><text class="s" x="11" y="12">Sg</text><text class="s" x="34" y="12">Ss</text><text class="l" transform="translate(-18,-39) rotate(-90)">Genistein</text></g>
</svg>
</body></html>
